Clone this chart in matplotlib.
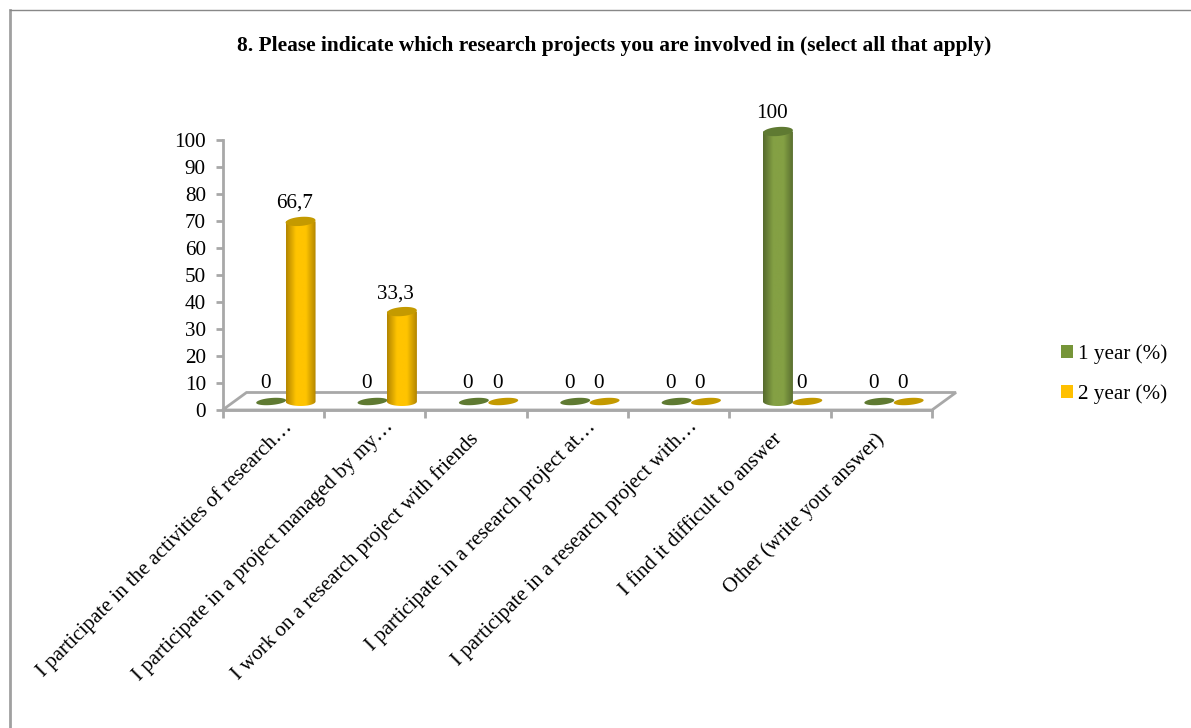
#!/usr/bin/env python3
"""Cylinder-style column chart of research project involvement, by study year."""
import numpy as np
import matplotlib
matplotlib.use("Agg")
import matplotlib.pyplot as plt
from matplotlib.colors import LinearSegmentedColormap
from matplotlib.lines import Line2D
from matplotlib.patches import Patch, PathPatch, Polygon
from matplotlib.path import Path
from matplotlib.transforms import ScaledTranslation

TITLE = "8. Please indicate which research projects you are involved in (select all that apply)"
categories = [
    "I participate in the activities of research…",
    "I participate in a project managed by my…",
    "I work on a research project with friends",
    "I participate in a research project at…",
    "I participate in a research project with…",
    "I find it difficult to answer",
    "Other (write your answer)",
]
year1 = [0, 0, 0, 0, 0, 100, 0]
year2 = [66.7, 33.3, 0, 0, 0, 0, 0]
series_names = ["1 year (%)", "2 year (%)"]
y_ticks = list(range(0, 101, 10))

W, H = 1191, 728
LEFT, RIGHT, TOP, BOTTOM = 222.5, 932, 140, 410
GRAY = "#a8a8a8"
FS = 15.2
STYLE = [
    {"shift": -0.02, "edge": "#566b2e", "mid": "#84a044", "top": "#5f7a32", "key": "#769538"},
    {"shift": 0.27, "edge": "#b38600", "mid": "#ffc400", "top": "#c49a00", "key": "#ffc000"},
]

plt.rcParams["font.family"] = ["Liberation Serif", "DejaVu Serif"]

fig = plt.figure(figsize=(W / 100, H / 100), dpi=100)
ax = fig.add_axes([LEFT / W, 1 - BOTTOM / H, (RIGHT - LEFT) / W, (BOTTOM - TOP) / H])
ax.patch.set_alpha(0)

# pixels per data unit, used to keep cylinders round on screen
sx = (RIGHT - LEFT) / 7
sy = (BOTTOM - TOP) / 100
base = 8.5 / sy   # columns stand on the floor, above the front axis


def ellipse_xy(cx, cy, a=15, b=4.5, tilt=5):
    t = np.linspace(0, 2 * np.pi, 60)
    th = np.radians(tilt)
    px = a * np.cos(t) * np.cos(th) - b * np.sin(t) * np.sin(th)
    py = a * np.cos(t) * np.sin(th) + b * np.sin(t) * np.cos(th)
    return np.column_stack([cx + px / sx, cy + py / sy])


def cylinder(x, value, st):
    y0 = base
    y1 = base + value
    if value == 0:
        ax.add_patch(Polygon(ellipse_xy(x, y0, b=3.5), closed=True, fc=st["top"], ec="none",
                             clip_on=False, zorder=3))
        return
    hw = 15 / sx
    t = np.linspace(np.pi, 2 * np.pi, 30)
    low = np.column_stack([x + hw * np.cos(t), y0 + 4.5 / sy * np.sin(t)])
    outline = np.vstack([[x - hw, y1], low, [x + hw, y1], [x - hw, y1]])
    cmap = LinearSegmentedColormap.from_list("cyl", [st["edge"], st["mid"], st["mid"], st["edge"]])
    clip = PathPatch(Path(outline), transform=ax.transData, fc="none", ec="none")
    ax.add_patch(clip)
    im = ax.imshow(np.linspace(0, 1, 64)[None, :], cmap=cmap, aspect="auto",
                   extent=(x - hw, x + hw, y0 - 3, y1), zorder=4)
    im.set_clip_box(fig.bbox)
    im.set_clip_path(clip)
    ax.add_patch(Polygon(ellipse_xy(x, y1), closed=True, fc=st["top"], ec="none",
                         clip_on=False, zorder=5))


# floor of the 3D plot
floor = [(-0.5, 0), (6.5, 0), (6.5 + 24 / sx, 17.5 / sy), (-0.5 + 24 / sx, 17.5 / sy)]
ax.add_patch(Polygon(floor, closed=True, fc="none", ec=GRAY, lw=2, clip_on=False, zorder=1))

xs = np.arange(len(categories))
for values, st in zip([year1, year2], STYLE):
    for x, v in zip(xs, values):
        cylinder(x + st["shift"], v, st)
        ax.annotate(f"{v:g}".replace(".", ","), (x + st["shift"], base + v),
                    textcoords="offset pixels", xytext=(-6, 18), ha="center", va="center",
                    fontsize=FS, color="black", zorder=6, annotation_clip=False)

ax.set_xlim(-0.5, 6.5)
ax.set_ylim(0, 100)
ax.set_yticks(y_ticks)
ax.set_xticks(np.arange(8) - 0.5)
ax.set_xticklabels([])
ax.set_xticks(xs, minor=True)
ax.set_xticklabels(categories, minor=True, rotation=45, ha="right", va="top",
                   rotation_mode="anchor", fontsize=15.0)
ax.tick_params(axis="x", which="minor", length=0, pad=9)
ax.tick_params(axis="x", which="major", color=GRAY, width=2, length=6)
ax.tick_params(axis="y", color=GRAY, width=2, length=5, labelsize=FS, pad=7)
for side in ["top", "right"]:
    ax.spines[side].set_visible(False)
for side in ["left", "bottom"]:
    ax.spines[side].set_color(GRAY)
    ax.spines[side].set_linewidth(2)

# truncated labels end further along the diagonal than the complete ones
for lab in ax.get_xticklabels(minor=True):
    nudge = (9, 5) if lab.get_text().endswith("…") else (-7, -7)
    lab.set_transform(lab.get_transform()
                      + ScaledTranslation(nudge[0] / 100, nudge[1] / 100, fig.dpi_scale_trans))

fig.text(614 / W, 1 - 46 / H, TITLE, ha="center", va="center", fontsize=15.4, fontweight="bold")

handles = [Patch(fc=st["key"], ec="none", label=n) for st, n in zip(STYLE, series_names)]
fig.legend(handles=handles, loc="center left", bbox_to_anchor=(1042 / W, 1 - 374 / H),
           frameon=False, fontsize=FS, handlelength=0.55, handleheight=0.55,
           handletextpad=0.24, labelspacing=0.95)

# chart frame, cropped at the right and bottom edges of the image
fig.add_artist(Line2D([10 / W, 10 / W], [0, 1 - 9.5 / H], color="#a0a0a0", lw=2))
fig.add_artist(Line2D([10 / W, 1], [1 - 9.5 / H, 1 - 9.5 / H], color="#888888", lw=1))

fig.savefig("out.png", dpi=100)
